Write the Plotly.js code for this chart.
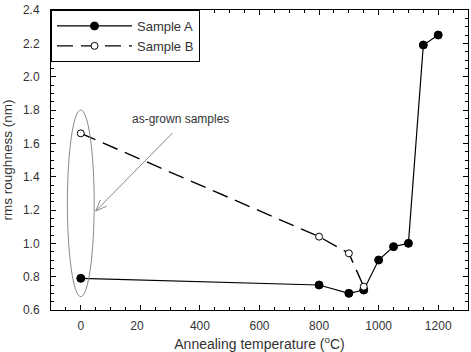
<!DOCTYPE html>
<html>
<head>
<meta charset="utf-8">
<script src="https://cdn.plot.ly/plotly-3.0.1.min.js"></script>
<style>
  html, body { margin: 0; padding: 0; background: #fff; }
  #chart { width: 471px; height: 352px; }
</style>
</head>
<body>
<div id="chart"></div>
<script>
// Annealing temperature (°C); 0 stands for the as-grown state
const tempA = [0, 800, 900, 950, 1000, 1050, 1100, 1150, 1200];
const roughA = [0.79, 0.75, 0.70, 0.72, 0.90, 0.98, 1.00, 2.19, 2.25];

const tempB = [0, 800, 900, 950];
const roughB = [1.66, 1.04, 0.94, 0.74];

const xTickVals = [0, 200, 400, 600, 800, 1000, 1200];
const xTickText = ['0', '20\u2007', '400', '600', '800', '1000', '1200'];
const yTickVals = [0.6, 0.8, 1.0, 1.2, 1.4, 1.6, 1.8, 2.0, 2.2, 2.4];
const yTickText = ['0.6', '0.8', '1.0', '1.2', '1.4', '1.6', '1.8', '2.0', '2.2', '2.4'];

const FONT = 'Liberation Sans, Arial, sans-serif';
const INK = '#333333';

const traces = [
  {
    x: tempA, y: roughA, name: 'Sample A', type: 'scatter', mode: 'lines+markers',
    line: { color: '#000', width: 1.2 },
    marker: { symbol: 'circle', size: 8, color: '#000', line: { color: '#000', width: 1 } }
  },
  {
    x: tempB, y: roughB, name: 'Sample B', type: 'scatter', mode: 'lines+markers',
    line: { color: '#000', width: 1.4, dash: '16px,8px' },
    marker: { symbol: 'circle', size: 7, color: '#fff', line: { color: '#000', width: 1 } }
  }
];

const layout = {
  width: 471, height: 352,
  margin: { l: 51, r: 3, t: 10, b: 42 },
  paper_bgcolor: '#fff', plot_bgcolor: '#fff',
  font: { family: FONT, size: 13, color: INK },
  showlegend: true,
  legend: {
    x: 0, y: 1, xanchor: 'left', yanchor: 'top',
    bgcolor: '#fff', bordercolor: '#000', borderwidth: 1,
    font: { family: FONT, size: 13, color: INK },
    itemwidth: 75, tracegroupgap: 0
  },
  xaxis: {
    range: [-100, 1300],
    tickmode: 'array', tickvals: xTickVals, ticktext: xTickText,
    ticks: 'inside', ticklen: 5, tickcolor: '#000', tickwidth: 1,
    minor: { tickmode: 'linear', tick0: 0, dtick: 50, ticks: 'inside', ticklen: 3, tickcolor: '#000' },
    showline: true, linecolor: '#000', linewidth: 1, mirror: 'allticks',
    showgrid: false, zeroline: false,
    tickfont: { family: FONT, size: 12, color: INK },
    ticklabelstandoff: 5,
    title: { text: 'Annealing temperature (<sup>o</sup>C)', font: { family: FONT, size: 14, color: INK }, standoff: 6 }
  },
  yaxis: {
    range: [0.6, 2.4],
    tickmode: 'array', tickvals: yTickVals, ticktext: yTickText,
    ticks: 'inside', ticklen: 5, tickcolor: '#000', tickwidth: 1,
    minor: { tickmode: 'linear', tick0: 0.6, dtick: 0.05, ticks: 'inside', ticklen: 3, tickcolor: '#000' },
    showline: true, linecolor: '#000', linewidth: 1, mirror: 'allticks',
    showgrid: false, zeroline: false,
    tickfont: { family: FONT, size: 12, color: INK },
    ticklabelstandoff: 8,
    title: { text: 'rms roughness (nm)', font: { family: FONT, size: 13.5, color: INK }, standoff: 8 }
  },
  shapes: [
    // ellipse around the as-grown points
    { type: 'circle', xref: 'x', yref: 'y', x0: -45, x1: 45, y0: 0.68, y1: 1.80,
      line: { color: '#888', width: 1 } },
    // pointer from the label to the ellipse, with an open arrowhead
    { type: 'path', xref: 'x', yref: 'y',
      path: 'M 308 1.662 L 50.2 1.194 M 65.6 1.261 L 50.2 1.194 L 87.1 1.223',
      line: { color: '#888', width: 1 } }
  ],
  annotations: [
    { x: 335, y: 1.746, xref: 'x', yref: 'y', text: 'as-grown samples', showarrow: false,
      font: { family: FONT, size: 12, color: INK } }
  ]
};

Plotly.newPlot('chart', traces, layout, { displayModeBar: false, staticPlot: true });
</script>
</body>
</html>
